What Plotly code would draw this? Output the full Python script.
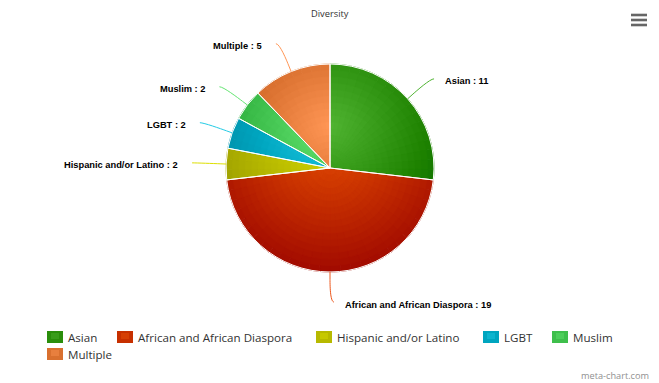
import math
import plotly.graph_objects as go

# ---------------- data ----------------
labels = ["Asian", "African and African Diaspora", "Hispanic and/or Latino",
          "LGBT", "Muslim", "Multiple"]
values = [11, 19, 2, 2, 2, 5]
base_colors = ["#50B432", "#ED561B", "#DDDF00", "#24CBE5", "#64E572", "#FF9655"]
title_text = "Diversity"
credit_text = "meta-chart.com"

# ---------------- layout constants (page pixels) ----------------
PAGE_W, PAGE_H = 659, 383
OFF = 8                      # default page body margin
W, H = PAGE_W - OFF, PAGE_H - OFF
CX, CY, R = 330, 168, 104
GX, GY, GR = CX, CY - R + 0.3 * 2 * R, 0.7 * 2 * R   # radial gradient (Highcharts style)
LABEL_DIST = 30
N_RINGS = 16
MAX_SUB_DEG = 6.0

LABEL_FONT = dict(family="Liberation Sans, Arial, sans-serif", size=9.3, color="#000000")
LEGEND_FONT = dict(family="Open Sans, sans-serif", size=11.6, color="#333333")

# legend layout: (row, text left x)
legend_pos = [(0, 67), (0, 137), (0, 336), (0, 503), (0, 572), (1, 67)]
legend_rows_y = [337, 354]


def hex2rgb(h):
    h = h.lstrip("#")
    return tuple(int(h[i:i + 2], 16) for i in (0, 2, 4))


def shade(h, t):
    r, g, b = hex2rgb(h)
    d = 76.5 * t
    return "rgb(%d,%d,%d)" % tuple(max(0, min(255, round(c - d))) for c in (r, g, b))


def px(x):
    return (x - OFF) / W


def py(y):
    return 1 - (y - OFF) / H


total = sum(values)

fig = go.Figure()

# --- gradient-filled pie built from concentric layers of sub-divided slices ---
sub_labels, sub_values, sub_mids, sub_base = [], [], [], []
acc = 0.0
for lab, v, c in zip(labels, values, base_colors):
    ang = v / total * 360
    n = max(1, math.ceil(ang / MAX_SUB_DEG))
    for j in range(n):
        sub_labels.append(f"{lab}#{j}")
        sub_values.append(v / n)
        sub_mids.append((acc + (j + 0.5) * v / n) / total * 360)
        sub_base.append(c)
    acc += v

fracs = [1 - k / N_RINGS for k in range(N_RINGS)]
for k, f in enumerate(fracs):
    f_in = fracs[k + 1] if k + 1 < N_RINGS else 0.0
    rr = (f + f_in) / 2 * R
    cols = []
    for m, c in zip(sub_mids, sub_base):
        a = math.radians(m)
        x = CX + rr * math.sin(a)
        y = CY - rr * math.cos(a)
        t = min(1.0, math.hypot(x - GX, y - GY) / GR)
        cols.append(shade(c, t))
    fig.add_trace(go.Pie(
        labels=sub_labels, values=sub_values, sort=False, direction="clockwise",
        rotation=0,
        domain=dict(x=[px(CX - f * R), px(CX + f * R)], y=[py(CY + f * R), py(CY - f * R)]),
        marker=dict(colors=cols, line=dict(color=cols, width=0.8)),
        textinfo="none", hoverinfo="skip", showlegend=False,
    ))

# --- top pie: real slices with white borders ---
fig.add_trace(go.Pie(
    labels=labels, values=values, sort=False, direction="clockwise", rotation=0,
    domain=dict(x=[px(CX - R), px(CX + R)], y=[py(CY + R), py(CY - R)]),
    marker=dict(colors=["rgba(0,0,0,0)"] * len(labels), line=dict(color="#FFFFFF", width=1)),
    textinfo="none", hovertemplate="%{label}: %{value}<extra></extra>", showlegend=False,
))

shapes = []
annotations = []

# --- data labels with curved connectors ---
acc = 0.0
rl = R + LABEL_DIST
for lab, v, c in zip(labels, values, base_colors):
    mid = (acc + v / 2) / total * 360
    acc += v
    a = math.radians(mid)
    s, co = math.sin(a), math.cos(a)
    right = mid <= 180 + 1e-6
    ly = CY - rl * co
    dx = math.sqrt(max(0.0, rl * rl - (ly - CY) ** 2))
    lx = CX + dx if right else CX - dx
    ex, ey = CX + R * s, CY - R * co
    mx, my = CX + (R + 6) * s, CY - (R + 6) * co
    m2x, m2y = 2 * mx - ex, 2 * my - ey
    sx = lx + 4 if right else lx - 4
    path = (f"M {px(sx)},{py(ly)} C {px(lx)},{py(ly)} {px(m2x)},{py(m2y)} "
            f"{px(mx)},{py(my)} L {px(ex)},{py(ey)}")
    shapes.append(dict(type="path", xref="paper", yref="paper", path=path,
                       line=dict(color=c, width=1)))
    annotations.append(dict(
        xref="paper", yref="paper",
        x=px(lx + 14 if right else lx - 17), y=py(ly + 2.5),
        xanchor="left" if right else "right", yanchor="middle",
        text=f"<b>{lab} : {v}</b>", showarrow=False, font=LABEL_FONT, borderpad=0,
    ))

# --- legend (drawn manually to match the original layout) ---
for lab, c, (row, tx) in zip(labels, base_colors, legend_pos):
    yc = legend_rows_y[row]
    shapes.append(dict(type="rect", xref="paper", yref="paper",
                       x0=px(tx - 20), x1=px(tx - 4), y0=py(yc + 6), y1=py(yc - 6),
                       fillcolor=shade(c, 0.5), line=dict(width=0)))
    shapes.append(dict(type="rect", xref="paper", yref="paper",
                       x0=px(tx - 16), x1=px(tx - 8), y0=py(yc + 2), y1=py(yc - 4),
                       fillcolor=shade(c, 0.3), line=dict(width=0)))
    annotations.append(dict(xref="paper", yref="paper", x=px(tx), y=py(yc),
                            xanchor="left", yanchor="middle", text=lab,
                            showarrow=False, font=LEGEND_FONT, borderpad=0))

# --- title and credit ---
annotations.append(dict(xref="paper", yref="paper", x=px(329.5), y=py(13.5),
                        xanchor="center", yanchor="middle", text=title_text, showarrow=False,
                        font=dict(family="Open Sans, sans-serif", size=9.3, color="#333333"),
                        borderpad=0))
annotations.append(dict(xref="paper", yref="paper", x=px(650), y=py(375),
                        xanchor="right", yanchor="middle", text=credit_text, showarrow=False,
                        font=dict(family="Open Sans, sans-serif", size=9.2, color="#909090"),
                        borderpad=0))

# --- context menu icon ---
for yy in (15, 20, 25):
    shapes.append(dict(type="line", xref="paper", yref="paper",
                       x0=px(631), x1=px(647), y0=py(yy), y1=py(yy),
                       line=dict(color="#666666", width=2.6)))

fig.update_layout(
    width=W, height=H,
    margin=dict(l=0, r=0, t=0, b=0),
    paper_bgcolor="#FFFFFF", plot_bgcolor="#FFFFFF",
    showlegend=False,
    shapes=shapes, annotations=annotations,
)

fig.write_html("out.html")
